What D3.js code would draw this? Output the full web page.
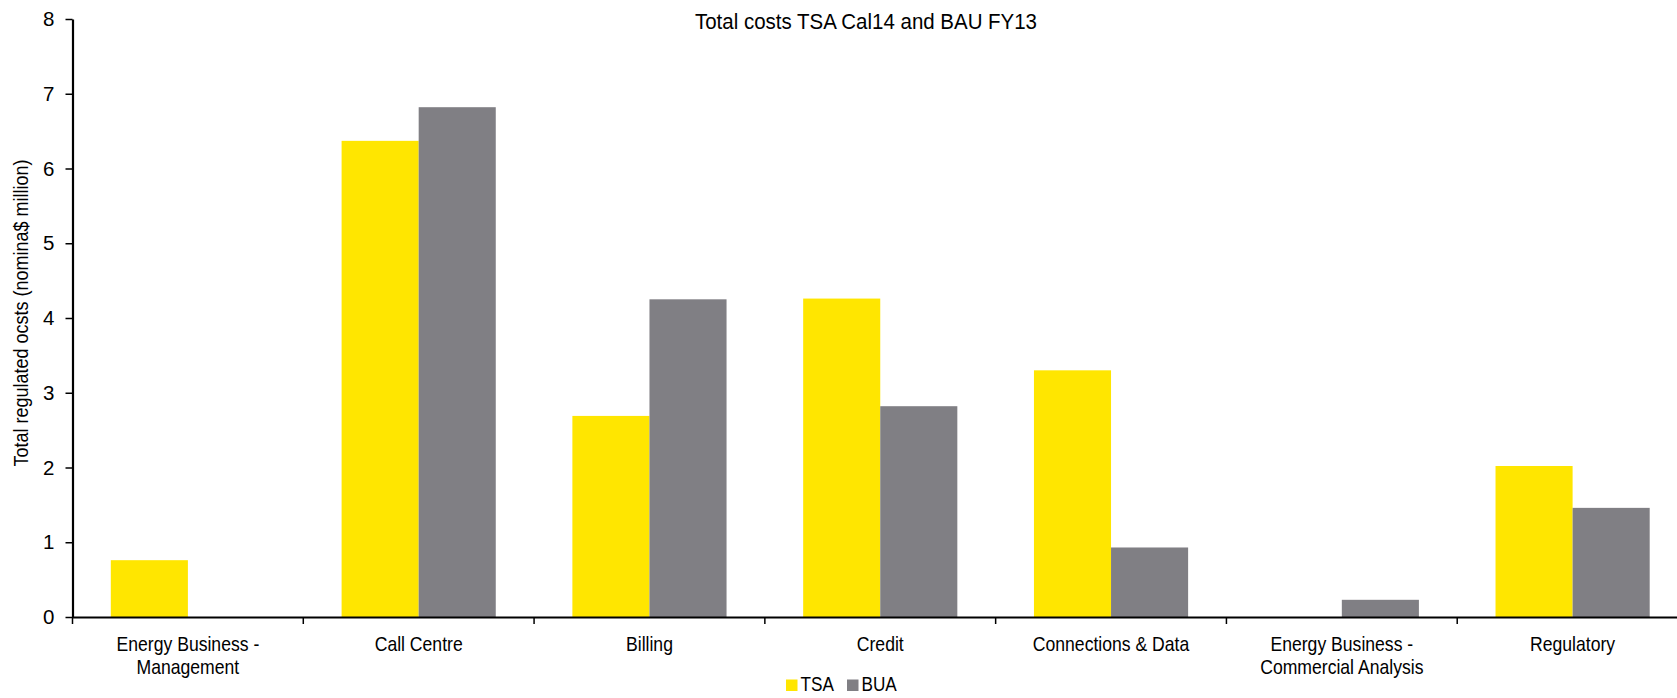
<!DOCTYPE html>
<html>
<head>
<meta charset="utf-8">
<script src="https://cdn.jsdelivr.net/npm/d3@7"></script>
<style>
  body { margin: 0; background: #fff; }
  svg { display: block; font-family: "Liberation Sans", Arial, sans-serif; }
</style>
</head>
<body>
<div id="chart"></div>
<script>
// data
const categories = ['Energy Business - Management', 'Call Centre', 'Billing', 'Credit',
  'Connections & Data', 'Energy Business - Commercial Analysis', 'Regulatory'];
const catLines = [['Energy Business -', 'Management'], ['Call Centre'], ['Billing'], ['Credit'],
  ['Connections & Data'], ['Energy Business -', 'Commercial Analysis'], ['Regulatory']];
const seriesNames = ['TSA', 'BUA'];
const tsaValues = [0.76, 6.37, 2.69, 4.26, 3.30, 0, 2.02];
const buaValues = [0, 6.82, 4.25, 2.82, 0.93, 0.23, 1.46];
const yTicks = [0, 1, 2, 3, 4, 5, 6, 7, 8];
const colors = {TSA: '#ffe600', BUA: '#807f84'};

const width = 1677, height = 698;
const margin = {top: 19, left: 72.5};
const plotBottom = 617;
const plotRight = 1688;   // the original is cut off at the right edge
const narrow = 0.88;      // the original font is a condensed sans

const svg = d3.select('#chart').append('svg')
  .attr('width', width)
  .attr('height', height);

const x = d3.scaleBand()
  .domain(categories)
  .range([margin.left, plotRight]);

const xInner = d3.scaleBand()
  .domain(seriesNames)
  .range([x.bandwidth() * 0.166, x.bandwidth() * 0.834]);

const y = d3.scaleLinear()
  .domain([0, 8])
  .range([plotBottom, margin.top]);

const rows = categories.map((c, i) => ({cat: c, TSA: tsaValues[i], BUA: buaValues[i]}));

// bars
const groups = svg.append('g').selectAll('g')
  .data(rows)
  .join('g')
    .attr('transform', d => `translate(${x(d.cat)},0)`);

groups.selectAll('rect')
  .data(d => seriesNames.map(s => ({key: s, value: d[s]})).filter(e => e.value > 0))
  .join('rect')
    .attr('x', d => xInner(d.key))
    .attr('y', d => y(d.value))
    .attr('width', xInner.bandwidth())
    .attr('height', d => y(0) - y(d.value))
    .attr('fill', d => colors[d.key]);

// y axis
const yAxis = svg.append('g')
  .attr('transform', `translate(${margin.left},0)`)
  .call(d3.axisLeft(y).tickValues(yTicks).tickSize(7).tickPadding(11).tickSizeOuter(0));
yAxis.select('.domain').attr('stroke-width', 2.2);
yAxis.selectAll('.tick line').attr('stroke-width', 1.5);
yAxis.selectAll('.tick text')
  .style('font-size', '20.5px')
  .attr('fill', '#000');

// x axis
const xAxis = svg.append('g')
  .attr('transform', `translate(0,${plotBottom})`)
  .call(d3.axisBottom(x).tickSize(0).tickFormat(''));
xAxis.select('.domain').attr('stroke-width', 2.2);
xAxis.selectAll('.tick').remove();

// category boundary ticks
svg.append('g').selectAll('line')
  .data(categories)
  .join('line')
    .attr('x1', d => x(d))
    .attr('x2', d => x(d))
    .attr('y1', plotBottom)
    .attr('y2', plotBottom + 7)
    .attr('stroke', '#000')
    .attr('stroke-width', 1.5);

// category labels
const labels = svg.append('g').selectAll('g')
  .data(categories)
  .join('g')
    .attr('transform', d => `translate(${x(d) + x.bandwidth() / 2},${plotBottom + 34}) scale(${narrow},1)`)
  .append('text')
    .attr('text-anchor', 'middle')
    .style('font-size', '20px')
    .attr('fill', '#000');
labels.selectAll('tspan')
  .data((d, i) => catLines[i])
  .join('tspan')
    .attr('x', 0)
    .attr('dy', (d, i) => i === 0 ? 0 : 23.5)
    .text(d => d);

// title
svg.append('g')
  .attr('transform', `translate(866,29) scale(0.91,1)`)
  .append('text')
    .attr('text-anchor', 'middle')
    .style('font-size', '22.5px')
    .text('Total costs TSA Cal14 and BAU FY13');

// y axis title
svg.append('g')
  .attr('transform', `translate(28,${(margin.top + plotBottom) / 2 - 5}) rotate(-90) scale(0.9,1)`)
  .append('text')
    .attr('text-anchor', 'middle')
    .style('font-size', '20px')
    .text('Total regulated ocsts (nomina$ million)');

// legend
const legend = svg.append('g')
  .attr('transform', 'translate(786,691)');
const item = legend.selectAll('g')
  .data(seriesNames)
  .join('g')
    .attr('transform', (d, i) => `translate(${i * 61},0)`);
item.append('rect')
  .attr('x', 0)
  .attr('y', -11.5)
  .attr('width', 11.5)
  .attr('height', 11.5)
  .attr('fill', d => colors[d]);
item.append('g')
  .attr('transform', `translate(14.5,0) scale(${narrow},1)`)
  .append('text')
    .style('font-size', '19.5px')
    .text(d => d);
</script>
</body>
</html>
